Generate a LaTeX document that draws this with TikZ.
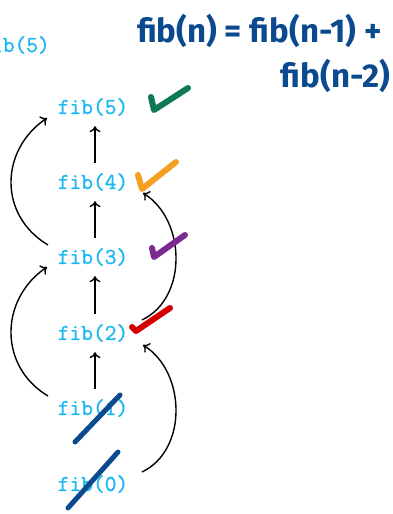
\documentclass[tikz,border=0pt]{standalone}
\usepackage{fontspec}
\usetikzlibrary{arrows.meta}
\newfontfamily\handfont{Fira Sans}
\newfontfamily\fibfont[FakeBold=1.2]{Latin Modern Mono}
\definecolor{fibcyan}{HTML}{1CB8F2}
\definecolor{inkblue}{HTML}{0B4A8E}
\definecolor{chkgreen}{HTML}{0D7A52}
\definecolor{chkorange}{HTML}{F5A020}
\definecolor{chkpurple}{HTML}{7A2A90}
\definecolor{chkred}{HTML}{D40000}
\begin{document}
\begin{tikzpicture}[x=1pt,y=-1pt,
  fibnode/.style={text=fibcyan,font=\fibfont\fontsize{22.8}{24}\selectfont,inner sep=0pt,minimum height=38pt},
  callarrow/.style={-{To[length=6pt,width=11pt]},line width=1.4pt,black},
  tick/.style={line width=6pt,line cap=round,line join=round},
  slash/.style={line width=5pt,line cap=round,inkblue},
  hand/.style={text=inkblue,font=\handfont\bfseries\fontsize{33}{35}\selectfont,inner sep=0pt}]
\clip (0,0) rectangle (392,514);
\useasboundingbox (0,0) rectangle (392,514);
\fill[white] (0,0) rectangle (392,514);
% partial node at top left
\node[fibnode,anchor=east] (top) at (50,45) {fib(5)};
% title
\node[hand,anchor=west] (eq1) at (137,31) {fib(n) = fib(n-1) +};
\node[hand,anchor=east] (eq2) at (390,76) {fib(n-2)};
% nodes
\node[fibnode] (f5) at (93,107) {fib(5)};
\node[fibnode] (f4) at (93,182) {fib(4)};
\node[fibnode] (f3) at (93,257) {fib(3)};
\node[fibnode] (f2) at (93,333) {fib(2)};
\node[fibnode] (f1) at (93,408) {fib(1)};
\node[fibnode] (f0) at (93,484) {fib(0)};
% straight arrows
\draw[callarrow] (f4.north -| 95,0) -- (f5.south -| 95,0);
\draw[callarrow] (f3.north -| 95,0) -- (f4.south -| 95,0);
\draw[callarrow] (f2.north -| 95,0) -- (f3.south -| 95,0);
\draw[callarrow] (f1.north -| 95,0) -- (f2.south -| 95,0);
% curved arrows left
\coordinate (l3s) at (48,245);
\coordinate (l5e) at (47,118);
\coordinate (l1s) at (48,396);
\coordinate (l3e) at (47,267);
\draw[callarrow] (l3s) .. controls (-2,215) and (0,150) .. (l5e);
\draw[callarrow] (l1s) .. controls (-2,366) and (0,299) .. (l3e);
% curved arrows right
\coordinate (r2s) at (142,320);
\coordinate (r4e) at (143,193);
\coordinate (r0s) at (142,472);
\coordinate (r2e) at (143,345);
\draw[callarrow] (r2s) .. controls (188,298) and (186,220) .. (r4e);
\draw[callarrow] (r0s) .. controls (188,450) and (186,372) .. (r2e);
% check marks
\draw[tick,chkgreen] (151,97) -- (154,110) -- (188,88);
\draw[tick,chkorange] (138,175) -- (142,189) -- (176,162);
\draw[tick,chkpurple] (152,248) -- (154,257) -- (185,235);
\draw[tick,chkred] (132,327) -- (136,331) -- (170,308);
% crossing strokes
\draw[slash] (75,442) -- (120,395);
\draw[slash] (68,508) -- (118,452);
\end{tikzpicture}
\end{document}
